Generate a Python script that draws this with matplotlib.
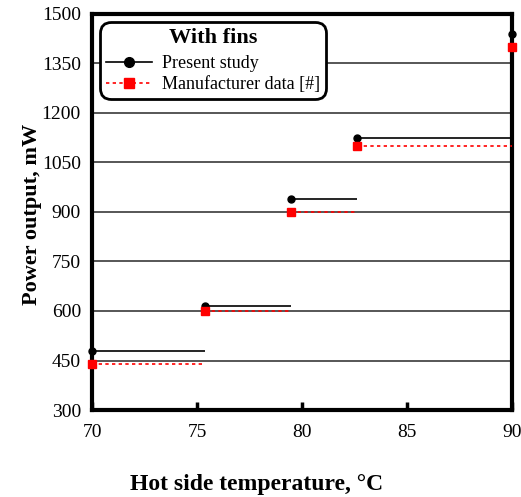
import matplotlib
matplotlib.use("Agg")
import matplotlib.pyplot as plt
import numpy as np

temps = [70, 75.4, 79.5, 82.6, 90]
present = [480, 615, 940, 1125, 1440]
manufacturer = [440, 600, 900, 1100, 1400]
xticks = [70, 75, 80, 85, 90]
yticks = [300, 450, 600, 750, 900, 1050, 1200, 1350, 1500]

plt.rcParams['font.family'] = ['Liberation Serif', 'DejaVu Serif']
fig = plt.figure(figsize=(5.21, 4.97), dpi=100)
ax = fig.add_axes([0.1766, 0.175, 0.806, 0.797])

for y in yticks[1:-1]:
    ax.axhline(y, color='#3a3a3a', lw=1.2, zorder=1)

x = np.array(temps)
p = np.array(present)
m = np.array(manufacturer)
ax.hlines(p[:-1], x[:-1], x[1:], colors='black', lw=1.2, zorder=3)
ax.hlines(m[:-1], x[:-1], x[1:], colors='red', lw=1.2, linestyles=(0, (2, 2)), zorder=3)
ax.plot(x, p, 'o', color='black', ms=5, zorder=4, clip_on=False)
ax.plot(x, m, 's', color='red', ms=5.5, zorder=4, clip_on=False)

# legend proxies
h1, = ax.plot([], [], '-o', color='black', lw=1.2, ms=7, label='Present study')
h2, = ax.plot([], [], 's', color='red', ls=(0, (2, 2)), lw=1.2, ms=7, label='Manufacturer data [#]')
leg = ax.legend(handles=[h1, h2], loc='upper left', title='With fins',
                fontsize=13, title_fontproperties={'weight': 'bold', 'size': 16},
                frameon=True, fancybox=True, edgecolor='black', framealpha=1,
                borderpad=0.15, handlelength=2.5, handletextpad=0.55, labelspacing=0.2,
                borderaxespad=0.65)
leg._legend_box.sep = 5
leg.get_frame().set_linewidth(2)
leg.get_frame().set_boxstyle('round,pad=0.2,rounding_size=0.6')

ax.set_xlim(70, 90)
ax.set_ylim(300, 1500)
ax.set_xticks(xticks)
ax.set_yticks(yticks)
ax.tick_params(axis='x', direction='in', length=6, width=2.5, labelsize=14, pad=10)
ax.tick_params(axis='y', length=0, labelsize=14, pad=8)
for s in ax.spines.values():
    s.set_linewidth(3)

ax.set_xlabel('Hot side temperature, °C', fontsize=17, fontweight='bold')
ax.xaxis.label.set_va('center')
ax.xaxis.set_label_coords(0.393, -0.189)
ax.set_ylabel('Power output, mW', fontsize=16, fontweight='bold')
ax.yaxis.label.set_va('center')
ax.yaxis.set_label_coords(-0.143, 0.495)

fig.savefig('out.png', dpi=100)
